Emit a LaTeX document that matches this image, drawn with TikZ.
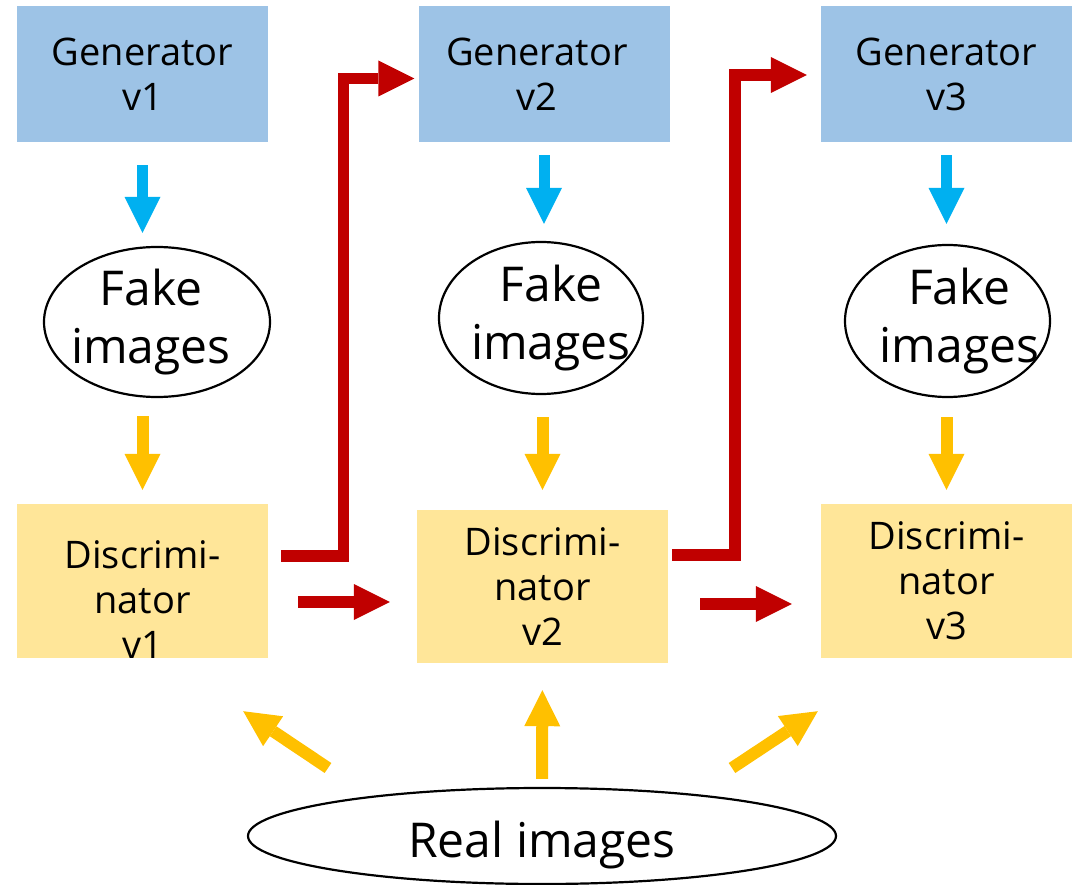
\documentclass[tikz,border=0pt]{standalone}
\usepackage{fontspec}
\setmainfont{Open Sans}
\usetikzlibrary{arrows.meta,shapes.geometric}

\definecolor{genblue}{HTML}{9DC3E6}
\definecolor{discyellow}{HTML}{FFE699}
\definecolor{flowblue}{HTML}{00B0F0}
\definecolor{flowyellow}{HTML}{FFC000}
\definecolor{flowred}{HTML}{C00000}

% a line of text moved sideways by half of #1, without taking up width
\newcommand\nudged[2]{\makebox[0pt]{\hspace*{#1}#2}}

\begin{document}
\begin{tikzpicture}[x=1pt,y=-1pt,
  boxtext/.style={font=\fontsize{38}{45}\selectfont, align=center, inner sep=0pt},
  genbox/.style={rectangle, fill=genblue, minimum width=251pt, minimum height=136pt, boxtext},
  discbox/.style={rectangle, fill=discyellow, minimum width=251pt, minimum height=154pt, boxtext},
  imgell/.style={ellipse, draw=black, line width=2.2pt, fill=white, inner sep=0pt,
    font=\fontsize{48}{58}\selectfont, align=center},
  flow/.style={line width=12pt, -{Triangle[length=36pt,width=36pt,line width=0pt]}},
  bluearrow/.style={flow, line width=11pt, color=flowblue},
  yellowarrow/.style={flow, color=flowyellow},
  redarrow/.style={flow, line width=11.5pt, color=flowred},
]
\useasboundingbox (0,0) rectangle (1076,885);

% generators
\node[genbox] (g1) at (142.5,74) {Generator\\v1};
\node[genbox] (g2) at (544,74) {\nudged{-14pt}{Generator}\\\nudged{-14pt}{v2}};
\node[genbox] (g3) at (946.5,74) {Generator\\v3};

% generated samples
\node[imgell, minimum width=226pt, minimum height=150pt] (f1) at (157,322)
  {\nudged{-12pt}{Fake}\\\nudged{-12pt}{images}};
\node[imgell, minimum width=204pt, minimum height=152pt] (f2) at (541,318)
  {\nudged{20pt}{Fake}\\\nudged{20pt}{images}};
\node[imgell, minimum width=205pt, minimum height=152pt] (f3) at (947.5,321)
  {\nudged{24pt}{Fake}\\\nudged{24pt}{images}};

% discriminators
\node[discbox] (d1) at (142.5,581) {\rule{0pt}{64pt}Discrimi-\\nator\\v1};
\node[discbox, minimum height=153pt] (d2) at (542.5,586.5) {Discrimi-\\nator\\v2};
\node[discbox] (d3) at (946.5,581) {Discrimi-\\nator\\v3};

% real data
\node[imgell, minimum width=588pt, minimum height=96pt] (r) at (542,836)
  {\rule{0pt}{54pt}Real images};

% generator -> fake images
\draw[bluearrow, shorten <=23pt, shorten >=13pt] (g1.south) -- (g1.south |- f1.north);
\draw[bluearrow, shorten <=13pt, shorten >=17pt] (g2.south) -- (g2.south |- f2.north);
\draw[bluearrow, shorten <=13pt, shorten >=20pt] (g3.south) -- (g3.south |- f3.north);

% fake images -> discriminator
\draw[yellowarrow, shorten <=18pt, shorten >=14pt] (d1.north |- f1.south) -- (d1.north);
\draw[yellowarrow, shorten <=22pt, shorten >=20pt] (d2.north |- f2.south) -- (d2.north);
\draw[yellowarrow, shorten <=19pt, shorten >=14pt] (d3.north |- f3.south) -- (d3.north);

% discriminator -> next discriminator
\draw[redarrow, shorten <=30pt, shorten >=27pt] (d1.east |- 0,602) -- (d2.west |- 0,602);
\draw[redarrow, shorten <=32pt, shorten >=29pt] (d2.east |- 0,604) -- (d3.west |- 0,604);

% discriminator -> next generator
\coordinate (up1) at (343.5,78.5);
\coordinate (up2) at (735,75);
\draw[redarrow, shorten <=13pt, shorten >=4pt] (d1.east |- 0,556) -| (up1) -- (g2.west |- up1);
\draw[redarrow, shorten <=4pt, shorten >=14pt] (d2.east |- 0,555) -| (up2) -- (g3.west |- up2);

% real images -> discriminators
\coordinate (rl) at ([shift={(-214,-68)}]r.center);
\coordinate (rr) at ([shift={(190,-68)}]r.center);
\coordinate (dl) at ([shift={(-25,53)}]d1.south east);
\coordinate (dr) at ([shift={(-3,53)}]d3.south west);
\draw[yellowarrow] (rl) -- (dl);
\draw[yellowarrow, shorten <=8pt, shorten >=27pt] (r.north) -- (d2.south);
\draw[yellowarrow] (rr) -- (dr);
\end{tikzpicture}
\end{document}
